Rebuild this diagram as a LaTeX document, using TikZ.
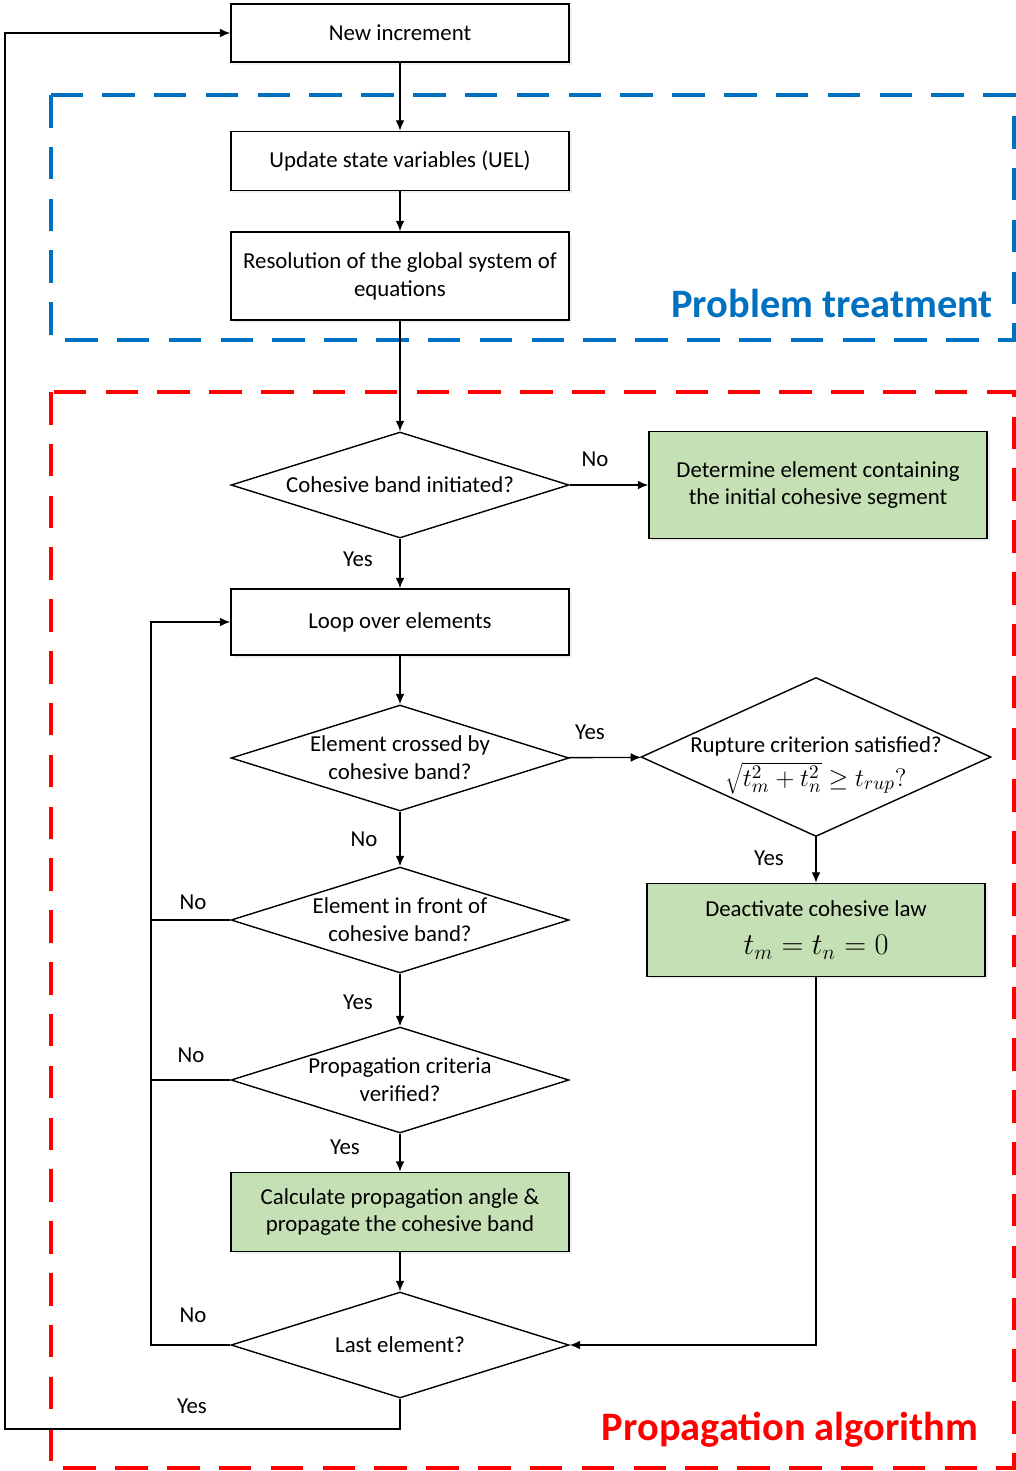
\documentclass[tikz,border=0pt]{standalone}
\usepackage[no-math]{fontspec}
\setmainfont{Carlito}
\usetikzlibrary{shapes.geometric,arrows.meta,shadows}

\definecolor{frameblue}{HTML}{0070C0}
\definecolor{framered}{HTML}{FF0000}
\definecolor{boxgreen}{HTML}{C5E0B4}

\tikzset{
  stepbox/.style={draw, line width=0.8pt, fill=white, minimum width=6.76cm, align=center,
    drop shadow={opacity=0.12, shadow xshift=1.5pt, shadow yshift=-1.5pt}},
  greenbox/.style={stepbox, fill=boxgreen},
  decision/.style={diamond, draw, line width=0.8pt, inner sep=0pt, minimum width=6.76cm, minimum height=2.12cm},
  answer/.style={inner sep=1pt},
  flow/.style={line width=0.8pt, -{Latex[length=6pt,width=5pt]}},
  link/.style={line width=0.8pt},
  frame/.style={line width=2pt, dash pattern=on 18.5pt off 11pt},
}

\begin{document}
\begin{tikzpicture}[x=0.02cm, y=-0.02cm, font=\fontsize{13}{15.9}\selectfont]
    \useasboundingbox (0,0) rectangle (1016,1471);

    % frames
    \draw[frame, frameblue] (51,95) rectangle (1014,340);
    \draw[frame, framered] (51,392) rectangle (1014,1468);
    \node[text=frameblue, font=\fontsize{23}{26}\selectfont\bfseries] (ttreat) at (832,303) {Problem treatment};
    \node[text=framered, font=\fontsize{23}{26}\selectfont\bfseries] (talgo) at (790,1430) {Propagation algorithm};

    % problem treatment
    \node[stepbox, minimum height=1.16cm] (inc) at (400,33) {New increment};
    \node[stepbox, minimum height=1.18cm] (upd) at (400,161) {Update state variables (UEL)};
    \node[stepbox, minimum height=1.76cm] (res) at (400,276) {Resolution of the global system of\\equations};

    % propagation algorithm
    \node[decision, label={[align=center]center:Cohesive band initiated?}] (init) at (400,485) {};
    \node[greenbox, minimum height=2.14cm] (det) at (818,485) {Determine element containing\\the initial cohesive segment};
    \node[stepbox, minimum height=1.32cm] (loop) at (400,622) {Loop over elements};
    \node[decision, label={[align=center]center:Element crossed by\\cohesive band?}] (cross) at (400,758) {};
    \node[decision, minimum width=7cm, minimum height=3.18cm,
      label={[align=center, yshift=-5pt]center:Rupture criterion satisfied?\\[3pt]{\fontsize{15}{18}\selectfont$\sqrt{t_m^2+t_n^2}\geq t_{rup}?$}}] (rupt) at (816,757) {};
    \node[greenbox, minimum height=1.86cm] (deact) at (816,930) {Deactivate cohesive law\\[6pt]{\fontsize{17}{20}\selectfont $t_m=t_n=0$}};
    \node[decision, label={[align=center]center:Element in front of\\cohesive band?}] (front) at (400,920) {};
    \node[decision, label={[align=center]center:Propagation criteria\\verified?}] (prop) at (400,1080) {};
    \node[greenbox, minimum height=1.58cm] (calc) at (400,1212) {Calculate propagation angle \&\\propagate the cohesive band};
    \node[decision, label={[align=center]center:Last element?}] (last) at (400,1345) {};

    \coordinate (lx) at (151,622);
    \coordinate (ret) at (5,1429);

    % connectors
    \draw[flow] (inc) -- (upd);
    \draw[flow] (upd) -- (res);
    \draw[flow] (res) -- (init);
    \draw[flow] (init) -- (det);
    \draw[flow] (init) -- (loop);
    \draw[flow] (loop) -- (cross);
    \draw[flow] (cross) -- (rupt);
    \draw[flow] (rupt) -- (deact);
    \draw[flow] (cross) -- (front);
    \draw[flow] (front) -- (prop);
    \draw[flow] (prop) -- (calc);
    \draw[flow] (calc) -- (last);
    \draw[flow] (last.west) -| (lx) -- (loop.west);
    \draw[link] (front.west) -- (front.west -| lx);
    \draw[link] (prop.west) -- (prop.west -| lx);
    \draw[flow] (deact.south) |- (last.east);
    \draw[flow] (last.south) |- (ret) |- (inc.west);

    % answers
    \node[answer] (ano1) at (595,459) {No};
    \node[answer] (ayes1) at (358,559) {Yes};
    \node[answer] (ayes2) at (590,732) {Yes};
    \node[answer] (ayes3) at (769,858) {Yes};
    \node[answer] (ano2) at (364,839) {No};
    \node[answer] (ano3) at (193,902) {No};
    \node[answer] (ayes4) at (358,1002) {Yes};
    \node[answer] (ano4) at (191,1055) {No};
    \node[answer] (ayes5) at (345,1147) {Yes};
    \node[answer] (ano5) at (193,1315) {No};
    \node[answer] (ayes6) at (192,1406) {Yes};
\end{tikzpicture}
\end{document}
